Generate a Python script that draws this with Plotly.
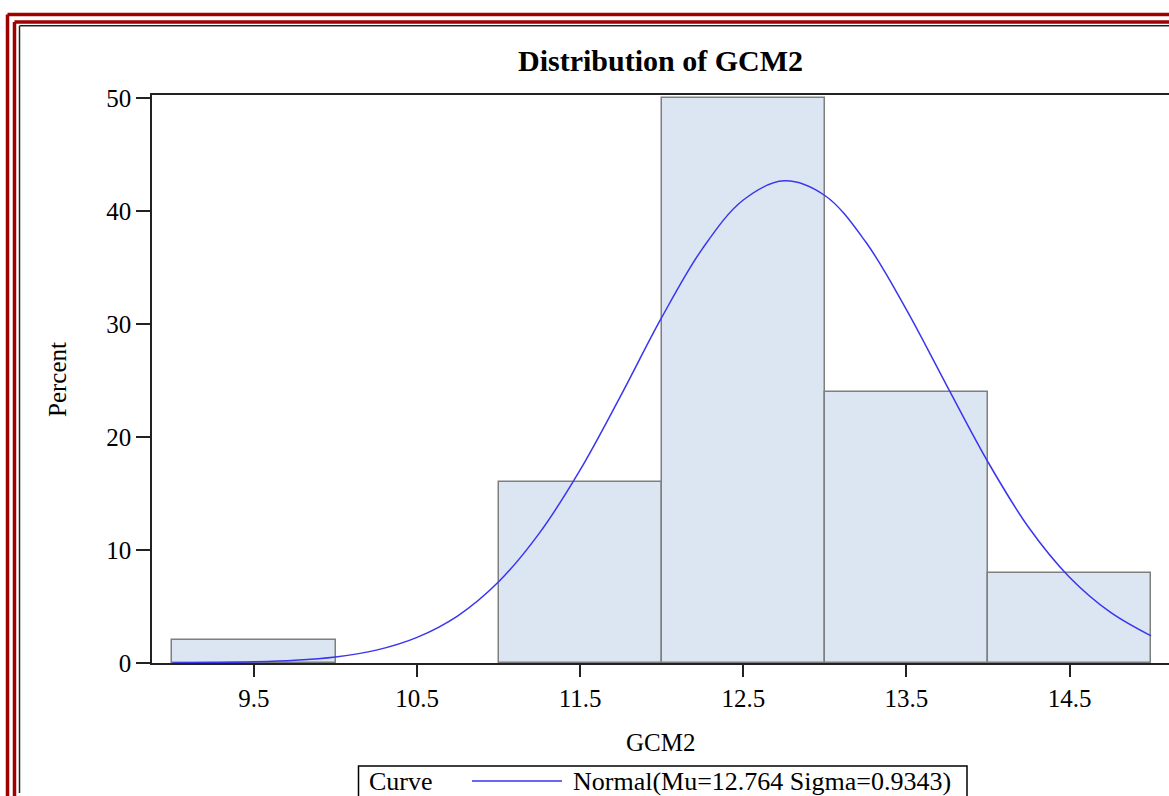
import plotly.graph_objects as go

# histogram bins (midpoints) and percent heights
bin_mid = [9.5, 10.5, 11.5, 12.5, 13.5, 14.5]
percent = [2, 0, 16, 50, 24, 8]

# fitted normal curve
curve_x = [9.0, 9.25, 9.5, 9.75, 10.0, 10.25, 10.5, 10.75, 11.0, 11.25, 11.5, 11.75,
           12.0, 12.25, 12.5, 12.75, 13.0, 13.25, 13.5, 13.75, 14.0, 14.25, 14.5, 14.75, 15.0]
curve_y = [0.01, 0.04, 0.1, 0.24, 0.54, 1.14, 2.27, 4.18, 7.19, 11.5, 17.1, 23.7,
           30.6, 36.7, 41.0, 42.7, 41.4, 37.3, 31.3, 24.5, 17.8, 12.0, 7.6, 4.5, 2.4]

tick_vals = [9.5, 10.5, 11.5, 12.5, 13.5, 14.5]
tick_text = ['9.5', '10.5', '11.5', '12.5', '13.5', '14.5']

W, H = 1169, 796
L, R, T, B = 152, 0, 95, 133
serif = 'Liberation Serif'
blue = '#3a35f0'

fig = go.Figure()

# empty bins get no outline
edge_w = [1.5 if p > 0 else 0 for p in percent]
fig.add_trace(go.Bar(x=bin_mid, y=percent, width=1,
                     marker=dict(color='#dce6f2', line=dict(color='#7f7f7f', width=edge_w)),
                     showlegend=False, hoverinfo='skip'))

fig.add_trace(go.Scatter(x=curve_x, y=curve_y, mode='lines',
                         line=dict(color=blue, width=1.5, shape='spline'),
                         showlegend=False, hoverinfo='skip'))


# pixel -> paper helpers
def px(x):
    return (x - L) / (W - L - R)


def py(y):
    return (H - B - y) / (H - B - T)


shapes = []
# page frame (double red border + thin black line)
for xx, yy, col, w in [(7.5, 14.5, '#a00000', 3.5), (14.5, 22, '#a00000', 3.5), (19.5, 25.8, '#222222', 1.5)]:
    shapes.append(dict(type='line', xref='paper', yref='paper', x0=px(xx), x1=px(W + 5), y0=py(yy), y1=py(yy),
                       line=dict(color=col, width=w)))
    shapes.append(dict(type='line', xref='paper', yref='paper', x0=px(xx), x1=px(xx), y0=py(yy),
                       y1=py(H + 5 if col != '#222222' else 793),
                       line=dict(color=col, width=w)))

# legend box drawn by hand (SAS style)
shapes.append(dict(type='rect', xref='paper', yref='paper', x0=px(358.5), x1=px(967), y0=py(766), y1=py(H + 10),
                   line=dict(color='black', width=1.5), fillcolor='white'))
shapes.append(dict(type='line', xref='paper', yref='paper', x0=px(472), x1=px(562), y0=py(781), y1=py(781),
                   line=dict(color=blue, width=1.5)))

txt = dict(family=serif, size=25, color='black')
leg = dict(family=serif, size=26, color='black')
annotations = [
    dict(text='Curve', xref='paper', yref='paper', x=px(367), y=py(781), xanchor='left', yanchor='middle',
         showarrow=False, font=leg),
    dict(text='Normal(Mu=12.764 Sigma=0.9343)', xref='paper', yref='paper', x=px(571), y=py(781),
         xanchor='left', yanchor='middle', showarrow=False, font=leg),
    dict(text='GCM2', xref='paper', yref='paper', x=0.5, y=py(742), xanchor='center', yanchor='middle',
         showarrow=False, font=txt),
    dict(text='Percent', xref='paper', yref='paper', x=px(57), y=py(380), xanchor='center', yanchor='middle',
         textangle=-90, showarrow=False, font=txt),
]

fig.update_layout(
    width=W, height=H,
    margin=dict(l=L, r=R, t=T, b=B, autoexpand=False),
    plot_bgcolor='white',
    paper_bgcolor='white',
    bargap=0,
    shapes=shapes,
    annotations=annotations,
    title=dict(text='<b>Distribution of GCM2</b>', x=0.5, xref='paper', y=1 - 60 / H, yanchor='middle',
               font=dict(family=serif, size=30, color='black')),
    xaxis=dict(
        range=[8.875, 15.11],
        tickvals=tick_vals, ticktext=tick_text,
        showgrid=False, zeroline=False,
        showline=True, linecolor='#222222', linewidth=1.5, mirror=True,
        ticks='outside', ticklen=12, tickcolor='#222222', tickwidth=1.5,
        tickfont=txt,
    ),
    yaxis=dict(
        range=[0, 50.3],
        tickvals=[0, 10, 20, 30, 40, 50],
        showgrid=False, zeroline=False,
        showline=True, linecolor='#222222', linewidth=1.5,
        ticks='outside', ticklen=14, tickcolor='#222222', tickwidth=1.5,
        tickfont=txt,
    ),
)

fig.write_html('out.html', config={'displayModeBar': False},
               post_script="document.body.style.margin='0';")
